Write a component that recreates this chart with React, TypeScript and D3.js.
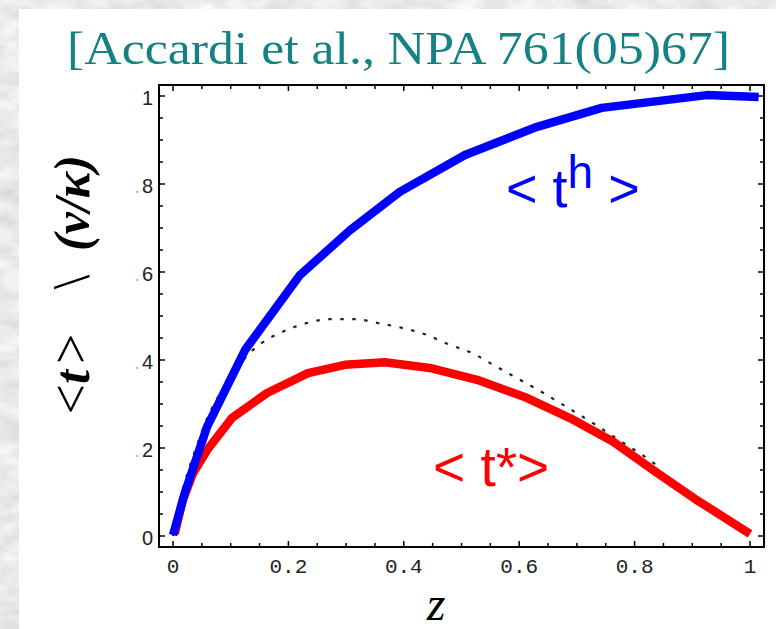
import React from "react";
import * as d3 from "d3";

// ---- data ----
const title = "[Accardi et al., NPA 761(05)67]";
const xTickValues = [0, 0.2, 0.4, 0.6, 0.8, 1];
const xTickLabels = ["0", "0.2", "0.4", "0.6", "0.8", "1"];
const yTickValues = [0, 0.2, 0.4, 0.6, 0.8, 1];
const yTickLabels = ["0", ".2", ".4", ".6", ".8", "1"];

const thZ = [0.0, 0.021, 0.059, 0.125, 0.22, 0.307, 0.393, 0.506, 0.631, 0.743, 0.925, 1.015];
const thT = [0.002, 0.1, 0.248, 0.423, 0.593, 0.695, 0.782, 0.866, 0.93, 0.973, 1.002, 0.998];

const tsZ = [0.003, 0.017, 0.035, 0.059, 0.102, 0.163, 0.234, 0.298, 0.367, 0.445, 0.527, 0.613, 0.688, 0.763, 0.835, 0.905, 1.0];
const tsT = [0.005, 0.082, 0.143, 0.195, 0.268, 0.325, 0.37, 0.389, 0.395, 0.382, 0.355, 0.314, 0.268, 0.214, 0.147, 0.084, 0.005];

const dotZ = [0.0, 0.01, 0.02, 0.04, 0.06, 0.08, 0.1, 0.133, 0.154, 0.19, 0.232, 0.272, 0.315, 0.355, 0.397, 0.44, 0.477, 0.518, 0.555, 0.593, 0.633, 0.671, 0.726, 0.78, 0.818, 0.838];
const dotT = [0.0, 0.07, 0.12, 0.2, 0.27, 0.32, 0.36, 0.416, 0.439, 0.464, 0.484, 0.493, 0.493, 0.484, 0.473, 0.457, 0.436, 0.416, 0.389, 0.361, 0.332, 0.302, 0.258, 0.212, 0.18, 0.161];

const W = 776;
const H = 629;

export default function App() {
  const x = d3.scaleLinear().domain([0, 1]).range([173, 750]);
  const y = d3.scaleLinear().domain([0, 1]).range([536, 96]);
  const frame = { l: 159, r: 764, t: 85, b: 547 };

  const minor = d3.range(0, 1.0001, 0.05);
  const isMajor = (v: number) => Math.abs(v / 0.2 - Math.round(v / 0.2)) < 1e-6;

  const lin = d3
    .line<[number, number]>()
    .x((d) => x(d[0]))
    .y((d) => y(d[1]));
  const smooth = d3
    .line<[number, number]>()
    .x((d) => x(d[0]))
    .y((d) => y(d[1]))
    .curve(d3.curveMonotoneX);

  const th = thZ.map((z, i) => [z, thT[i]] as [number, number]);
  const ts = tsZ.map((z, i) => [z, tsT[i]] as [number, number]);
  const dt = dotZ.map((z, i) => [z, dotT[i]] as [number, number]);

  return (
    <svg
      width={W}
      height={H}
      style={{ position: "absolute", left: 0, top: 0, display: "block" }}
    >
      <defs>
        <filter id="marble" x="0" y="0" width="100%" height="100%">
          <feTurbulence type="fractalNoise" baseFrequency="0.035 0.07" numOctaves={4} seed={7} />
          <feColorMatrix
            type="matrix"
            values="0.38 0 0 0 0.63  0.38 0 0 0 0.63  0.38 0 0 0 0.63  0 0 0 0 1"
          />
        </filter>
      </defs>
      <rect x={0} y={0} width={W} height={H} fill="#ffffff" />
      <rect x={0} y={0} width={19} height={H} filter="url(#marble)" />
      <rect x={0} y={0} width={W} height={9} filter="url(#marble)" />

      {/* title */}
      <text
        x={67}
        y={64}
        fontFamily="'Liberation Serif', serif"
        fontSize={46}
        fill="#148282"
        textLength={663}
        lengthAdjust="spacingAndGlyphs"
      >
        {title}
      </text>

      {/* frame */}
      <rect
        x={frame.l}
        y={frame.t}
        width={frame.r - frame.l}
        height={frame.b - frame.t}
        fill="#fff"
        stroke="#000"
        strokeWidth={2}
      />

      {/* ticks */}
      {minor.map((v, i) => {
        const len = isMajor(v) ? 6 : 4;
        const px = x(v);
        const py = y(v);
        return (
          <g key={"t" + i} stroke="#000" strokeWidth={1.5}>
            <line x1={px} x2={px} y1={frame.b} y2={frame.b - len} />
            <line x1={px} x2={px} y1={frame.t} y2={frame.t + len} />
            <line x1={frame.l} x2={frame.l + len} y1={py} y2={py} />
            <line x1={frame.r} x2={frame.r - len} y1={py} y2={py} />
          </g>
        );
      })}

      {/* x tick labels */}
      {xTickValues.map((v, i) => (
        <text
          key={"xl" + i}
          x={x(v)}
          y={573}
          textAnchor="middle"
          fontFamily="'Liberation Mono', monospace"
          fontSize={21}
          fill="#222"
        >
          {xTickLabels[i]}
        </text>
      ))}

      {/* y tick labels */}
      {yTickValues.map((v, i) => {
        const lab = yTickLabels[i];
        const hasDot = lab.startsWith(".");
        return (
          <text
            key={"yl" + i}
            x={153}
            y={y(v) + 9}
            textAnchor="end"
            fontFamily="'Liberation Sans', Arial, sans-serif"
            fontSize={20}
            fill="#222"
          >
            {hasDot ? (
              <>
                <tspan fill="#b8b8b8">.</tspan>
                <tspan dx={2}>{lab.slice(1)}</tspan>
              </>
            ) : (
              lab
            )}
          </text>
        );
      })}

      {/* curves */}
      <path
        d={smooth(dt) || ""}
        fill="none"
        stroke="#222"
        strokeWidth={2.2}
        strokeDasharray="3.5 8.5"
      />
      <path
        d={lin(ts) || ""}
        fill="none"
        stroke="#ff0000"
        strokeWidth={8.5}
        strokeLinejoin="round"
      />
      <path
        d={lin(th) || ""}
        fill="none"
        stroke="#0000ff"
        strokeWidth={8.5}
        strokeLinejoin="round"
      />

      {/* curve labels */}
      <text
        x={506}
        y={207}
        fontFamily="'Liberation Sans', Arial, sans-serif"
        fontSize={54}
        fill="#0000ff"
      >
        {"< t"}
        <tspan fontSize={46} dy={-19}>
          h
        </tspan>
        <tspan dy={19}>{" >"}</tspan>
      </text>
      <text
        x={433}
        y={486}
        fontFamily="'Liberation Sans', Arial, sans-serif"
        fontSize={55}
        fill="#ff0000"
      >
        {"< t*>"}
      </text>

      {/* axis titles */}
      <g fontFamily="'Liberation Serif', serif" fill="#000">
        <text transform="translate(89,374) rotate(-90)" textAnchor="middle" fontSize={54}>
          <tspan>{"<"}</tspan>
          <tspan fontWeight="bold" fontStyle="italic" fontSize={50}>
            {"t"}
          </tspan>
          <tspan dx={6}>{">"}</tspan>
        </text>
        <text transform="translate(89,282) rotate(-90)" textAnchor="middle" fontSize={52}>
          {"\\"}
        </text>
        <text
          transform="translate(89,203) rotate(-90)"
          textAnchor="middle"
          fontSize={50}
          fontWeight="bold"
          fontStyle="italic"
        >
          {"(ν/κ)"}
        </text>
      </g>
      <text
        x={436}
        y={620}
        textAnchor="middle"
        fontFamily="'Liberation Serif', serif"
        fontStyle="italic"
        fontSize={48}
        fill="#000"
      >
        z
      </text>
    </svg>
  );
}
